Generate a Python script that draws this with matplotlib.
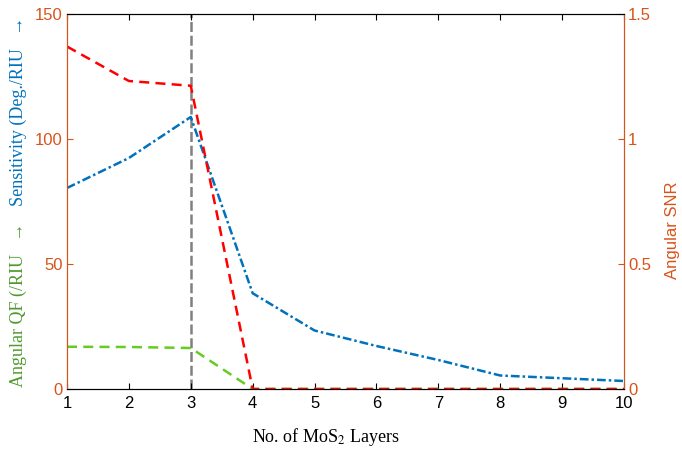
import numpy as np
import matplotlib.pyplot as plt

plt.rcParams['font.family'] = ['Liberation Sans', 'DejaVu Sans']
plt.rcParams['mathtext.fontset'] = 'stix'

layers = [1, 2, 3, 4, 5, 6, 7, 8, 9, 10]
sensitivity = [80.4, 92.4, 108.8, 38.3, 23.4, 17.2, 11.6, 5.4, 4.3, 3.2]
angular_qf = [16.9, 16.8, 16.4, 0, 0, 0, 0, 0, 0, 0]
angular_snr = [1.37, 1.232, 1.213, 0, 0, 0, 0, 0, 0, 0]
marker_layer = 3

orange = '#D95319'
blue = '#0072BD'

fig = plt.figure(figsize=(6.82, 4.51), dpi=100)
ax = fig.add_axes([67/682, 62/451, 557/682, 375/451])
ax2 = ax.twinx()

ax.plot(layers, angular_qf, color='#66CC22', linestyle=(0, (4, 2.5)), linewidth=1.8, zorder=2)
ax.plot(layers, sensitivity, color=blue, linestyle=(0, (3.5, 1.2, 1, 1.2)), linewidth=1.8, zorder=3)
ax.axvline(marker_layer, color='#808080', linestyle=(0, (4, 1.5)), linewidth=1.8, zorder=1)
ax2.plot(layers, angular_snr, color='#FF0000', linestyle=(0, (4, 2.5)), linewidth=1.8)

ax.set_xlim(1, 10)
ax.set_ylim(0, 150)
ax2.set_ylim(0, 1.5)
ax.set_xticks(layers)
ax.set_yticks([0, 50, 100, 150])
ax2.set_yticks([0, 0.5, 1, 1.5])
ax2.set_yticklabels(['0', '0.5', '1', '1.5'])

ax.tick_params(axis='x', direction='in', top=True, labelsize=12, length=4, pad=5)
ax.tick_params(axis='y', direction='in', colors=orange, labelsize=12, length=4, pad=3)
ax2.tick_params(axis='y', direction='in', colors=orange, labelsize=12, length=4, pad=3)
ax.spines['left'].set_color(orange)
ax2.spines['left'].set_color(orange)
ax2.spines['right'].set_color(orange)
ax.spines['right'].set_color(orange)

# axis titles placed by hand, like the original
fig.text(326/682, 1 - 437/451, 'No. of MoS$_2$ Layers', ha='center', va='center',
         fontsize=13, family='Liberation Serif')
fig.text(672/682, 1 - 230/451, 'Angular SNR', rotation=90, ha='center', va='center',
         color=orange, fontsize=12)
fig.text(0.027, 0.324, 'Angular QF (/RIU   \u2192', rotation=90, ha='center', va='center',
         color='#4E9A2E', fontsize=13, family=['Liberation Serif', 'DejaVu Sans'])
fig.text(0.027, 0.754, 'Sensitivity (Deg./RIU   \u2192', rotation=90, ha='center', va='center',
         color=blue, fontsize=13, family=['Liberation Serif', 'DejaVu Sans'])

fig.savefig('out.png', dpi=100)
